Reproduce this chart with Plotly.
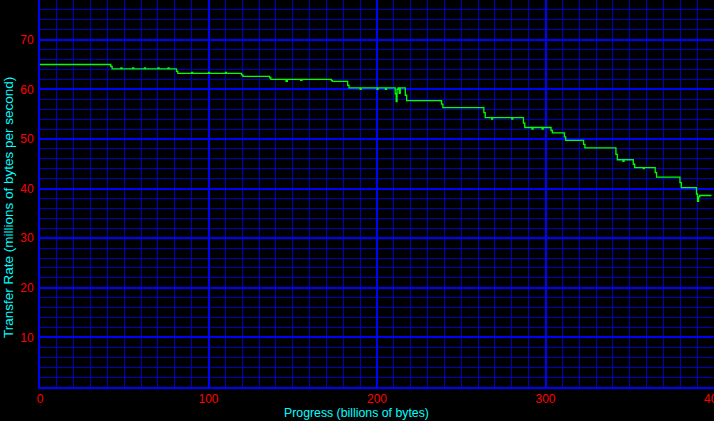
import plotly.graph_objects as go

# Progress (billions of bytes) and transfer rate (millions of bytes per second)
progress = [0, 42.0, 42.8, 48, 48.6, 55, 55.6, 62, 62.6, 70, 70.6, 76, 76.6,
            81.0, 81.8, 90, 90.6, 100, 100.6, 110, 110.6, 119.6, 120.4,
            136.3, 137.0, 146.0, 146.8, 154.7, 155.5, 172.9, 173.5,
            182.6, 183.4, 190, 190.6, 200, 200.6, 205, 205.6,
            210.8, 211.4, 211.9, 212.5, 213.2, 213.8, 216.8, 217.6,
            238.3, 239.1, 263.4, 264.2, 268, 268.6, 280, 280.6,
            286.9, 287.7, 292, 292.6, 298, 298.6, 303.3, 304.1,
            311.2, 312.0, 322.6, 323.4, 341.8, 342.6, 346, 346.6,
            352.1, 352.9, 358, 358.6, 365.1, 365.9, 379.8, 380.6,
            389.6, 390.2, 390.8, 391.5, 398.5]
rate = [65.0, 64.6, 64.1, 64.3, 64.1, 64.3, 64.1, 64.3, 64.1, 64.3, 64.1, 64.3, 64.1,
        63.6, 63.2, 63.4, 63.2, 63.4, 63.2, 63.4, 63.2, 62.9, 62.6,
        62.3, 62.0, 61.6, 62.0, 61.8, 62.0, 61.8, 61.6,
        60.8, 60.3, 60.0, 60.3, 60.0, 60.3, 60.0, 60.3,
        59.1, 57.5, 60.0, 60.3, 59.2, 60.3, 58.8, 57.7,
        57.0, 56.3, 55.3, 54.3, 54.0, 54.3, 54.0, 54.3,
        53.2, 52.3, 52.0, 52.3, 52.0, 52.3, 51.7, 51.2,
        50.4, 49.7, 48.9, 48.2, 46.9, 45.8, 45.5, 45.8,
        44.9, 44.2, 44.0, 44.2, 43.2, 42.3, 41.2, 40.2,
        38.9, 37.4, 38.3, 38.6, 38.6]

x_ticks = [0, 100, 200, 300, 400]
y_ticks = [10, 20, 30, 40, 50, 60, 70]
x_title = "Progress (billions of bytes)"
y_title = "Transfer Rate (millions of bytes per second)"

fig = go.Figure()
fig.add_trace(go.Scatter(
    x=progress, y=rate, mode="lines",
    line=dict(color="#00FF00", width=1.3, shape="hv"),
    hoverinfo="skip", showlegend=False,
))

tickfont = dict(color="#FF0000", size=12, family="Liberation Sans")
fig.update_layout(
    width=714, height=421,
    margin=dict(l=40, r=0, t=0, b=34, autoexpand=False),
    paper_bgcolor="black", plot_bgcolor="black",
    font=dict(family="Liberation Sans", size=12),
    xaxis=dict(
        range=[0, 400], tickmode="array", tickvals=x_ticks,
        ticktext=[str(v) for v in x_ticks],
        tickfont=tickfont, automargin=False,
        ticklabeloverflow="allow", ticklabelstandoff=0,
        showgrid=True, gridcolor="#0000FF", gridwidth=2,
        minor=dict(dtick=10, tick0=0, showgrid=True, gridcolor="#0000C0", gridwidth=1),
        showline=True, linecolor="#0000FF", linewidth=2,
        zeroline=False, ticks="",
    ),
    yaxis=dict(
        range=[0, 78], tickmode="array", tickvals=y_ticks,
        ticktext=[str(v) for v in y_ticks],
        tickfont=tickfont, automargin=False,
        ticklabelstandoff=2,
        showgrid=True, gridcolor="#0000FF", gridwidth=2,
        minor=dict(dtick=2, tick0=0, showgrid=True, gridcolor="#0000C0", gridwidth=1),
        showline=True, linecolor="#0000FF", linewidth=2,
        zeroline=False, ticks="",
    ),
    annotations=[
        dict(text=x_title, xref="paper", yref="paper", x=0.469, y=-0.067,
             xanchor="center", yanchor="middle", showarrow=False,
             font=dict(color="#00FFFF", size=12.3, family="Liberation Sans")),
        dict(text=y_title, xref="paper", yref="paper", x=-0.0475, y=0.465,
             xanchor="center", yanchor="middle", showarrow=False, textangle=-90,
             font=dict(color="#00FFFF", size=13.5, family="Liberation Sans")),
    ],
)

fig.write_html(
    "out.html",
    config={"displayModeBar": False},
    post_script="document.body.style.margin='0';document.body.style.background='black';",
)
